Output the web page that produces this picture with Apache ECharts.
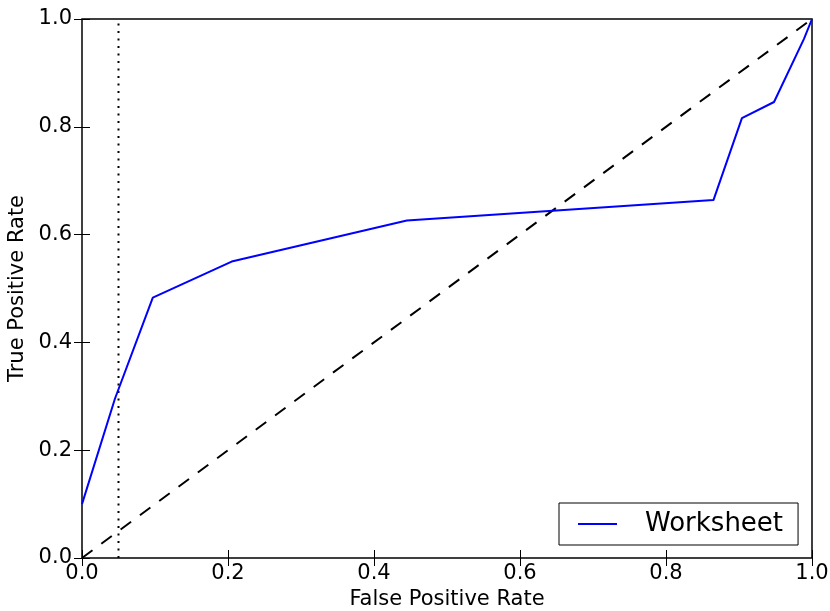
<!DOCTYPE html>
<html>
<head>
<meta charset="utf-8">
<script src="https://cdn.jsdelivr.net/npm/echarts@6/dist/echarts.min.js"></script>
<style>
  html, body { margin: 0; padding: 0; background: #fff; }
  #chart { width: 830px; height: 611px; }
</style>
</head>
<body>
<div id="chart"></div>
<script>
// ROC curve points
const fpr = [0.0, 0.045, 0.097, 0.205, 0.445, 0.865, 0.904, 0.948, 0.989, 1.0]
const tpr = [0.1, 0.295, 0.483, 0.55, 0.626, 0.664, 0.816, 0.846, 0.963, 1.0]
// chance diagonal
const diagX = [0, 1]
const diagY = [0, 1]
// threshold marker
const markX = [0.05, 0.05]
const markY = [0, 1]

const zip = (xs, ys) => xs.map((x, i) => [x, ys[i]])
const font = 'DejaVu Sans'

const chart = echarts.init(document.getElementById('chart'))

const tickCfg = { show: true, inside: true, length: 8, lineStyle: { color: '#000', width: 1 } }

chart.setOption({
  animation: false,
  grid: {
    left: 82, right: 18, top: 19, bottom: 53,
    outerBoundsMode: 'none',
    containLabel: false,
    show: true, borderColor: '#000', borderWidth: 1.5, backgroundColor: '#fff'
  },
  legend: {
    data: ['Worksheet'],
    left: 559, top: 503,
    orient: 'vertical',
    borderColor: '#000', borderWidth: 1,
    padding: [8, 15, 8, 19],
    itemWidth: 39, itemHeight: 2,
    icon: 'rect',
    textStyle: { fontFamily: font, fontSize: 26, color: '#000', padding: [0, 0, 0, 23] }
  },
  xAxis: [
    {
      type: 'value', min: 0, max: 1, interval: 0.2, position: 'bottom',
      name: 'False Positive Rate', nameLocation: 'middle', nameGap: 29,
      nameTextStyle: { fontFamily: font, fontSize: 21, color: '#000' },
      axisLine: { show: false }, splitLine: { show: false },
      axisTick: tickCfg,
      axisLabel: { fontFamily: font, fontSize: 21, color: '#000', margin: 5,
        formatter: v => v.toFixed(1) }
    },
    {
      type: 'value', min: 0, max: 1, interval: 0.2, position: 'top',
      axisLine: { show: false }, splitLine: { show: false },
      axisTick: tickCfg, axisLabel: { show: false }
    }
  ],
  yAxis: [
    {
      type: 'value', min: 0, max: 1, interval: 0.2, position: 'left',
      name: 'True Positive Rate', nameLocation: 'middle', nameGap: 46,
      nameTextStyle: { fontFamily: font, fontSize: 21, color: '#000' },
      axisLine: { show: false }, splitLine: { show: false },
      axisTick: tickCfg,
      axisLabel: { fontFamily: font, fontSize: 21, color: '#000', margin: 10,
        formatter: v => v.toFixed(1) }
    },
    {
      type: 'value', min: 0, max: 1, interval: 0.2, position: 'right',
      axisLine: { show: false }, splitLine: { show: false },
      axisTick: tickCfg, axisLabel: { show: false }
    }
  ],
  series: [
    {
      name: 'Worksheet',
      type: 'line',
      data: zip(fpr, tpr),
      symbol: 'none',
      color: '#0000ff',
      lineStyle: { color: '#0000ff', width: 2 },
      z: 3
    },
    {
      name: 'diagonal',
      type: 'line',
      data: zip(diagX, diagY),
      symbol: 'none',
      lineStyle: { color: '#000', width: 2, type: [13, 11] },
      z: 2
    },
    {
      name: 'threshold',
      type: 'line',
      data: zip(markX, markY),
      symbol: 'none',
      lineStyle: { color: '#000', width: 2, type: [2, 5.5] },
      z: 2
    }
  ]
})
</script>
</body>
</html>
